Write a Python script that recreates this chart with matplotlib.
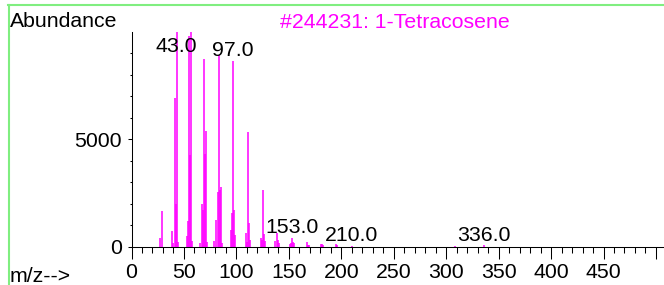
import matplotlib
matplotlib.use("Agg")
import matplotlib.pyplot as plt
from matplotlib.lines import Line2D
from matplotlib.ticker import MultipleLocator, FixedLocator

plt.rcParams['font.family'] = ['Liberation Sans', 'DejaVu Sans']

# ---- data (m/z, abundance) ----
mz = [27, 29,
      39, 40, 41, 42, 43, 44,
      53, 54, 55, 56, 57, 58,
      65, 67, 68, 69, 70, 71, 72,
      79, 81, 82, 83, 84, 85, 86,
      95, 96, 97, 98, 99,
      109, 110, 111, 112, 113,
      123, 124, 125, 126, 127,
      137, 139, 140, 141,
      151, 152, 153, 154, 155,
      167, 168, 169,
      181, 182, 183,
      195, 196,
      210, 308, 336]
abundance = [400, 1650,
             750, 150, 6900, 1980, 9999, 200,
             480, 1180, 9800, 4250, 9990, 250,
             160, 2000, 1700, 8750, 4300, 5400, 200,
             280, 1250, 2550, 8900, 2650, 2800, 150,
             800, 1550, 8650, 1700, 550,
             620, 200, 5350, 1100, 330,
             390, 300, 2650, 600, 250,
             250, 650, 300, 180,
             120, 150, 420, 200, 150,
             200, 100, 80,
             120, 130, 60,
             110, 60,
             50, 50, 80]
label_mz = [43, 97, 153, 210, 336]
title = "#244231: 1-Tetracosene"
x_major = list(range(0, 501, 50))
x_labels = [str(v) for v in range(0, 451, 50)] + [""]

W, H = 664, 285
fig = plt.figure(figsize=(W / 100, H / 100), dpi=100)

x0, x1 = 131.5, 663.3
y0, y1 = 246.7, 31.7
ax = fig.add_axes([x0 / W, (H - y0) / H, (x1 - x0) / W, (y0 - y1) / H])
ax.set_xlim(0, 507)
ax.set_ylim(0, 10000)

magenta = '#ff00ff'
ax.vlines(mz, 0, abundance, colors=magenta, linewidth=1.1)

ab = dict(zip(mz, abundance))
for m in label_mz:
    yv = min(ab[m] + 200, 9070)
    ax.text(m, yv, f"{m:.1f}", ha='center', va='baseline', fontsize=15.3, color='black')

for s in ['top', 'right']:
    ax.spines[s].set_visible(False)
for s in ['left', 'bottom']:
    ax.spines[s].set_linewidth(0.75)
    ax.spines[s].set_color('black')

ax.xaxis.set_major_locator(FixedLocator(x_major))
ax.set_xticklabels(x_labels)
ax.xaxis.set_minor_locator(MultipleLocator(10))
ax.yaxis.set_major_locator(FixedLocator([0, 5000]))
ax.yaxis.set_minor_locator(FixedLocator([1000, 2000, 3000, 4000, 6000, 7000, 8000, 9000]))
ax.tick_params(axis='x', which='major', direction='out', length=8.4, width=0.75, pad=3.5, labelsize=15.3)
ax.tick_params(axis='x', which='minor', direction='out', length=4, width=0.75)
ax.tick_params(axis='y', which='major', direction='out', length=3, width=0.75, pad=4, labelsize=15.3)
ax.tick_params(axis='y', which='minor', direction='out', length=1.5, width=0.75)
ax.patch.set_alpha(0)

# frame lines (green)
green = '#80ee80'
fig.add_artist(Line2D([8 / W, 1], [1 - 5 / H, 1 - 5 / H], transform=fig.transFigure, color=green, lw=1.5))
fig.add_artist(Line2D([9 / W, 9 / W], [0, 1 - 5 / H], transform=fig.transFigure, color=green, lw=1.5))

fig.text(10 / W, 1 - 27 / H, "Abundance", ha='left', va='baseline', fontsize=15.3)
fig.text(395 / W, 1 - 27.5 / H, title, ha='center', va='baseline', fontsize=15.3, color=magenta)
fig.text(10 / W, 1 - 282 / H, "m/z-->", ha='left', va='baseline', fontsize=15.3)

fig.savefig("out.png", dpi=100)
